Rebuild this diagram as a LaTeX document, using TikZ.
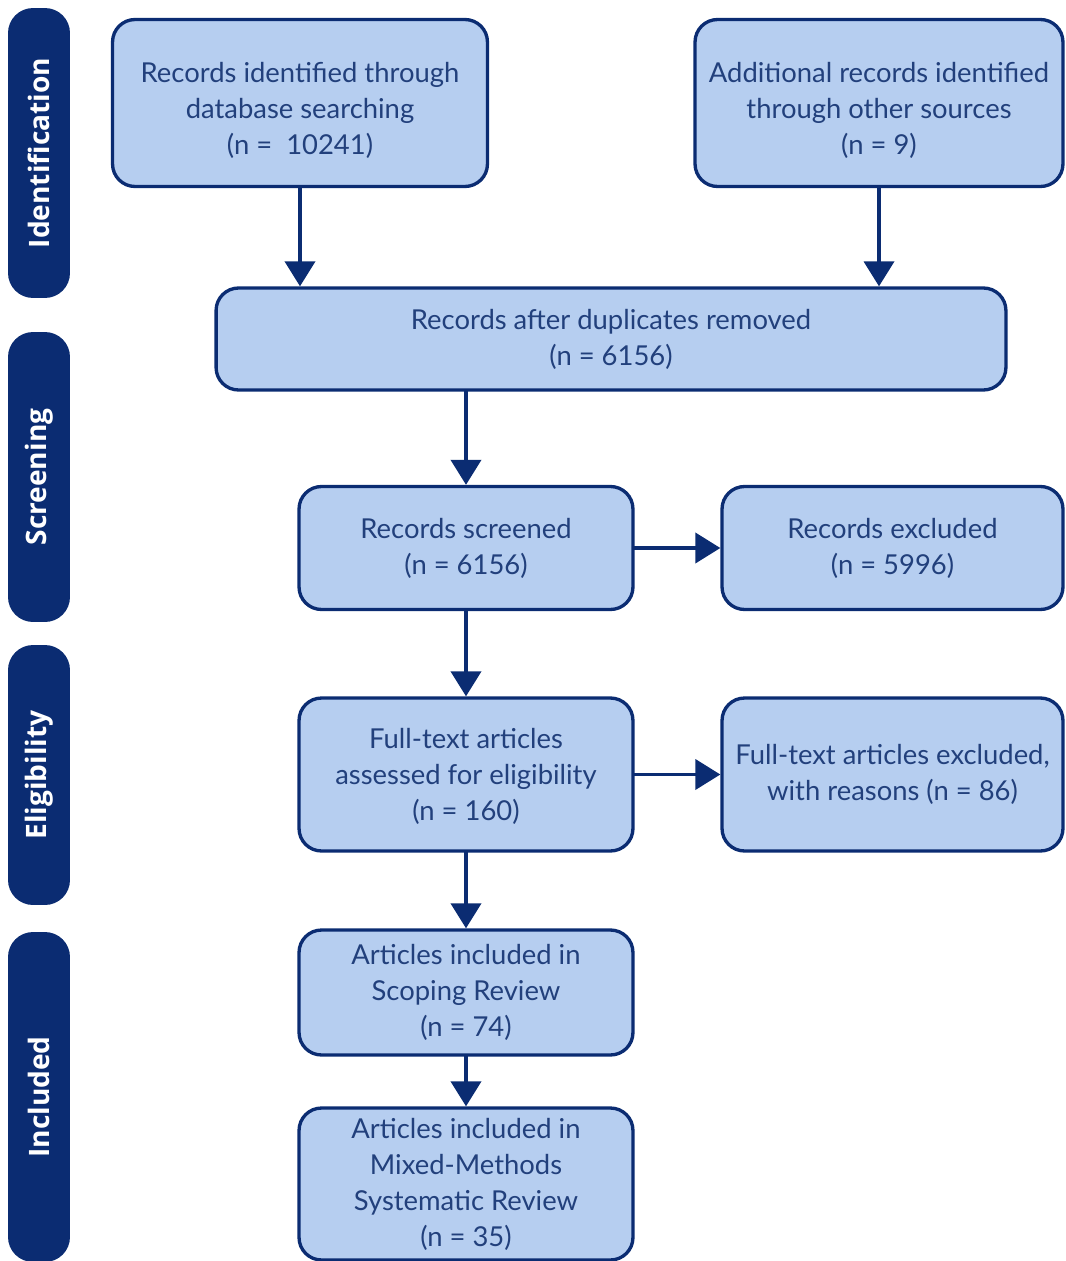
\documentclass[tikz,border=0pt]{standalone}
\usepackage{fontspec}
\setmainfont{Lato}
\newfontfamily\phasefont{Open Sans}
\usetikzlibrary{arrows.meta}
\usetikzlibrary{positioning}
\definecolor{navy}{HTML}{0B2C72}
\definecolor{boxfill}{HTML}{B6CEF0}
\definecolor{boxtext}{HTML}{22407C}

\begin{document}
\begin{tikzpicture}[line cap=round,line join=round,x=0.02cm,y=-0.02cm,
  >={Triangle[width=0.6cm,length=0.5cm]},
  box/.style={draw=navy,line width=1.9pt,fill=boxfill,rounded corners=0.45cm,
    align=center,text=boxtext,font=\fontsize{15.6}{20.5}\selectfont,inner sep=0pt},
  phase/.style={fill=navy,rounded corners=0.5cm,text=white,rotate=90,inner sep=0pt,
    minimum height=1.24cm,font=\phasefont\bfseries\fontsize{16}{18}\selectfont},
  flow/.style={->,draw=navy,line width=2.2pt}]
\useasboundingbox (0,0) rectangle (1065,1261);
% phase bars
\node[phase,minimum width=5.8cm] (pid) at (39,153) {Identification};
\node[phase,minimum width=5.8cm] (pscr) at (39,477) {Screening};
\node[phase,minimum width=5.2cm] (pel) at (39,775) {Eligibility};
\node[phase,minimum width=6.6cm] (pinc) at (39,1097) {Included};
% boxes
\node[box,minimum width=7.5cm,minimum height=3.34cm] (b1) at (300,103) {\rule{0pt}{20pt}Records identified through\\database searching\\(n = \ 10241)};
\node[box,minimum width=7.36cm,minimum height=3.34cm] (b2) at (879,103) {\rule{0pt}{20pt}Additional records identified\\through other sources\\(n = 9)};
\node[box,minimum width=15.8cm,minimum height=2.04cm] (b3) at (611,339) {Records after duplicates removed\\(n = 6156)};
\node[box,minimum width=6.68cm,minimum height=2.46cm] (b4) at (466,548) {Records screened\\(n = 6156)};
\node[box,minimum width=6.82cm,minimum height=2.46cm] (b5) at (892.5,548) {Records excluded\\(n = 5996)};
\node[box,minimum width=6.68cm,minimum height=3.06cm] (b6) at (466,774.5) {\rule{0pt}{14pt}Full-text articles\\assessed for eligibility\\(n = 160)};
\node[box,minimum width=6.82cm,minimum height=3.06cm] (b7) at (892.5,774.5) {Full-text articles excluded,\\with reasons (n = 86)};
\node[box,minimum width=6.68cm,minimum height=2.5cm] (b8) at (466,992.5) {Articles included in\\Scoping Review\\(n = 74)};
\node[box,minimum width=6.68cm,minimum height=3.04cm] (b9) at (466,1184) {Articles included in\\Mixed-Methods\\Systematic Review\\(n = 35)};
% arrows
\draw[flow] (b1) -- (b1 |- b3.north);
\draw[flow] (b2) -- (b2 |- b3.north);
\draw[flow] (b3.south -| b4) -- (b4);
\draw[flow] (b4) -- (b5);
\draw[flow] (b4) -- (b6);
\draw[flow] (b6) -- (b7);
\draw[flow] (b6) -- (b8);
\draw[flow] (b8) -- (b9);
\end{tikzpicture}
\end{document}
